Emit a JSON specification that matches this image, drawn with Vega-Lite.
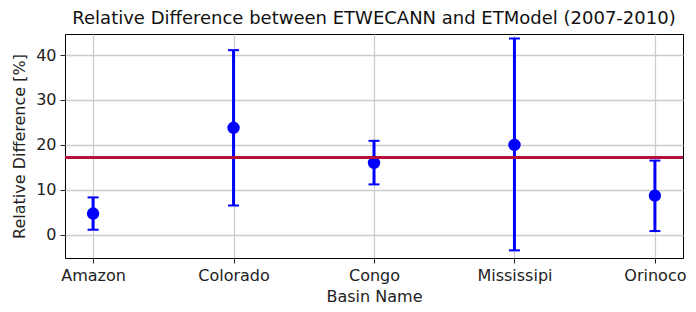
{
  "$schema": "https://vega.github.io/schema/vega-lite/v6.json",
  "width": 618,
  "height": 224,
  "autosize": {"type": "none"},
  "padding": {"left": 65, "top": 34, "right": 13, "bottom": 54},
  "background": "white",
  "config": {
    "font": "DejaVu Sans",
    "view": {"stroke": "black", "strokeWidth": 1},
    "axis": {
      "labelFont": "DejaVu Sans",
      "titleFont": "DejaVu Sans",
      "labelFontSize": 16,
      "titleFontSize": 16,
      "labelColor": "#222222",
      "titleColor": "#222222",
      "titleFontWeight": "normal",
      "tickColor": "#222222",
      "tickSize": 5,
      "gridColor": "#cccccc",
      "gridWidth": 1.3,
      "domain": false
    }
  },
  "title": {
    "text": "Relative Difference between ETWECANN and ETModel (2007-2010)",
    "fontSize": 18,
    "fontWeight": "normal",
    "font": "DejaVu Sans",
    "anchor": "middle",
    "offset": 6,
    "color": "#111111"
  },
  "data": {
    "values": [
      {"basin": "Amazon", "mean": 4.7, "lo": 1.1, "hi": 8.3},
      {"basin": "Colorado", "mean": 23.8, "lo": 6.5, "hi": 41.1},
      {"basin": "Congo", "mean": 16.0, "lo": 11.2, "hi": 20.9},
      {"basin": "Mississipi", "mean": 20.0, "lo": -3.5, "hi": 43.7},
      {"basin": "Orinoco", "mean": 8.7, "lo": 0.8, "hi": 16.5}
    ]
  },
  "layer": [
    {
      "mark": {"type": "rule", "color": "#0000ff", "strokeWidth": 3},
      "encoding": {
        "x": {
          "field": "basin",
          "type": "nominal",
          "sort": null,
          "scale": {"type": "point", "padding": 0.2},
          "axis": {"title": "Basin Name", "labelAngle": 0, "labelPadding": 4, "titlePadding": 5, "grid": true}
        },
        "y": {
          "field": "lo",
          "type": "quantitative",
          "scale": {"domain": [-5.2, 44.7], "nice": false, "zero": false},
          "axis": {"title": "Relative Difference [%]", "values": [0, 10, 20, 30, 40], "labelPadding": 4, "titlePadding": 8, "grid": true}
        },
        "y2": {"field": "hi"}
      }
    },
    {
      "mark": {"type": "tick", "color": "#0000ff", "size": 11, "thickness": 2, "orient": "horizontal", "opacity": 1},
      "encoding": {
        "x": {"field": "basin", "type": "nominal", "sort": null},
        "y": {"field": "lo", "type": "quantitative"}
      }
    },
    {
      "mark": {"type": "tick", "color": "#0000ff", "size": 11, "thickness": 2, "orient": "horizontal", "opacity": 1},
      "encoding": {
        "x": {"field": "basin", "type": "nominal", "sort": null},
        "y": {"field": "hi", "type": "quantitative"}
      }
    },
    {
      "mark": {"type": "circle", "color": "#0000ff", "opacity": 1, "size": 154},
      "encoding": {
        "x": {"field": "basin", "type": "nominal", "sort": null},
        "y": {"field": "mean", "type": "quantitative"}
      }
    },
    {
      "data": {"values": [{"ref": 17.2}]},
      "mark": {"type": "rule", "color": "#b5103c", "strokeWidth": 3},
      "encoding": {"y": {"field": "ref", "type": "quantitative"}}
    }
  ]
}
